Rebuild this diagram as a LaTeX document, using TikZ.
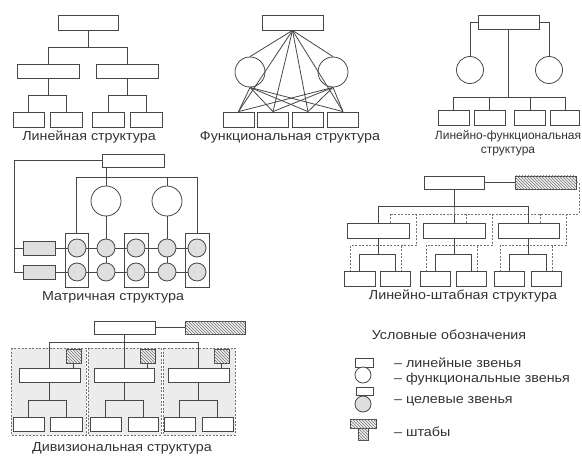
\documentclass[tikz,border=0pt]{standalone}
\usepackage{fontspec}
\setmainfont{Liberation Sans}[FakeStretch=1.1]
\newfontfamily\plainsans{Liberation Sans}
\usetikzlibrary{patterns,calc}
\colorlet{lc}{black!72}
\tikzset{
  ln/.style={draw=lc, line width=0.8pt},
  dsh/.style={draw=black!55, line width=0.8pt, dash pattern=on 2pt off 1.5pt},
  rbox/.style 2 args={rectangle, draw=lc, line width=0.8pt, fill=white, inner sep=0pt, minimum width=#1, minimum height=#2},
  frame/.style 2 args={rectangle, draw=lc, line width=0.8pt, inner sep=0pt, minimum width=#1, minimum height=#2},
  gbox/.style 2 args={rbox={#1}{#2}, fill=gray!25},
  hbox/.style 2 args={rbox={#1}{#2}, fill=gray!12, postaction={pattern=north west lines, pattern color=black!55}},
  circ/.style={circle, draw=lc, line width=0.8pt, fill=white, inner sep=0pt, minimum size=#1},
  gcirc/.style={circ=#1, fill=gray!25},
  lbl/.style={font=\fontsize{13}{13}\selectfont, text=black!80, inner sep=0pt},
}
\begin{document}
\begin{tikzpicture}[x=1pt, y=-1pt]
\useasboundingbox (0,0) rectangle (582,460);

% ---------------- Linear structure
\node[rbox={60}{15}] (L0) at (88,22.5) {};
\node[rbox={62}{14}] (L1a) at (48.5,71) {};
\node[rbox={62}{14}] (L1b) at (127.5,71) {};
\node[rbox={31}{15}] (L2a) at (28.5,120) {};
\node[rbox={32}{15}] (L2b) at (66,120) {};
\node[rbox={32}{15}] (L2c) at (108,120) {};
\node[rbox={32}{15}] (L2d) at (146,120) {};
\draw[ln] (L0.south) -- ++(0,17) -| (L1a.north);
\draw[ln] (L0.south) -- ++(0,17) -| (L1b.north);
\draw[ln] (L1a.south) -- ++(0,17) -| (L2a.north);
\draw[ln] (L1a.south) -- ++(0,17) -| (L2b.north);
\draw[ln] (L1b.south) -- ++(0,17) -| (L2c.north);
\draw[ln] (L1b.south) -- ++(0,17) -| (L2d.north);
\node[lbl] (tL) at (89,137) {Линейная структура};

% ---------------- Functional structure
\node[rbox={61}{15}] (F0) at (292.5,22.5) {};
\node[circ=30] (FC1) at (250,72) {};
\node[circ=30] (FC2) at (333,72) {};
\node[rbox={31}{15}] (FB1) at (238.5,119.5) {};
\node[rbox={31}{15}] (FB2) at (273,119.5) {};
\node[rbox={31}{15}] (FB3) at (308,119.5) {};
\node[rbox={31}{15}] (FB4) at (343,119.5) {};
\draw[ln] (F0.south) -- (FC1.north);
\draw[ln] (F0.south) -- (FC2.north);
\foreach \b in {FB1,FB2,FB3,FB4}{
  \draw[ln] (F0.south) -- (\b.north);
  \draw[ln] (FC1.south) -- (\b.north);
  \draw[ln] (FC2.south) -- (\b.north);
}
\node[lbl] (tF) at (290,137) {Функциональная структура};

% ---------------- Linear-functional structure
\node[rbox={61}{14}] (LF0) at (508.5,22.5) {};
\node[circ=27] (LFC1) at (470,70) {};
\node[circ=27] (LFC2) at (549,70) {};
\node[rbox={31}{15}] (LFB1) at (453.5,117.5) {};
\node[rbox={31}{15}] (LFB2) at (489.5,117.5) {};
\node[rbox={31}{15}] (LFB3) at (530,117.5) {};
\node[rbox={29}{15}] (LFB4) at (565,117.5) {};
\draw[ln] (LF0.west) -| (LFC1.north);
\draw[ln] (LF0.east) -| (LFC2.north);
\foreach \b in {LFB1,LFB2,LFB3,LFB4}{
  \draw[ln] (LF0.south) -- ++(0,67.5) -| (\b.north);
}
\node[lbl, font=\plainsans\fontsize{12}{13.5}\selectfont, align=center] (tLF) at (508,143.5) {Линейно-функциональная\\структура};

% ---------------- Matrix structure
\node[rbox={62}{13}] (M0) at (133,160.5) {};
\node[circ=30] (MC1) at (106,201) {};
\node[circ=30] (MC2) at (167,201) {};
\node[frame={23}{54}] (MF1) at (76.5,260) {};
\node[frame={24}{54}] (MF3) at (136,260) {};
\node[frame={24}{54}] (MF5) at (197,260) {};
\node[gbox={32}{14}] (GB1) at (39,248) {};
\node[gbox={32}{14}] (GB2) at (39,272) {};
\foreach \c/\x in {1/77,2/106,3/136,4/167,5/197}{
  \node[gcirc=18] (S\c1) at (\x,248) {};
  \node[gcirc=18] (S\c2) at (\x,272) {};
}
\draw[ln] (M0.south -| MC1.north) -- (MC1.north);
\draw[ln] (MF1.north) -- ++(0,-55) -| (MF5.north);
\draw[ln] (MC2.north) -- ++(0,-8);
\coordinate (ML) at (14,160.5);
\draw[ln] (M0.west) -- (ML) |- (GB2.west);
\draw[ln] (ML |- GB1.west) -- (GB1.west);
\foreach \r in {1,2}{
  \draw[ln] (GB\r.east) -- (S1\r);
  \draw[ln] (S1\r) -- (S2\r);
  \draw[ln] (S2\r) -- (S3\r);
  \draw[ln] (S3\r) -- (S4\r);
  \draw[ln] (S4\r) -- (S5\r);
}
\draw[ln] (S21) -- (S22);
\draw[ln] (S41) -- (S42);
\draw[ln] (MC1) -- (S21);
\draw[ln] (MC2) -- (S41);
\node[lbl] (tM) at (113,297) {Матричная структура};

% ---------------- Linear-staff structure
\node[rbox={60}{13}] (LS0) at (454,182.5) {};
\node[hbox={61}{13}] (LSH) at (545.5,182.5) {};
\draw[ln] (LS0) -- (LSH);
\node[rbox={62}{15}] (P1) at (378,230.5) {};
\node[rbox={62}{15}] (P2) at (454,230.5) {};
\node[rbox={61}{15}] (P3) at (528.5,230.5) {};
\node[rbox={31}{15}] (C11) at (359.5,278.5) {};
\node[rbox={30}{15}] (C12) at (395,278.5) {};
\node[rbox={30}{15}] (C21) at (435,278.5) {};
\node[rbox={30}{15}] (C22) at (471.5,278.5) {};
\node[rbox={30}{15}] (C31) at (509,278.5) {};
\node[rbox={30}{15}] (C32) at (546,278.5) {};
\coordinate (T1) at (579,214);
\coordinate (T0) at (390,214);
\draw[dsh] (LSH.east) -| (T1) -- (T0);
\foreach \g in {1,2,3}{
  \draw[ln] (LS0.south) -- ++(0,17) -| (P\g.north);
  \draw[ln] (P\g.south) -- ++(0,16) -| (C\g1.north);
  \draw[ln] (P\g.south) -- ++(0,16) -| (C\g2.north);
  \draw[dsh] ($(P\g.north)+(12,-9)$) -- ($(P\g.north)+(12,0)$);
  \draw[dsh] ($(P\g.north east)+(7,-9)$) |- ($(C\g1.north)+(-9,-25)$) -- ($(C\g1.north)+(-9,0)$);
  \draw[dsh] ($(C\g2.north)+(6,-25)$) -- ($(C\g2.north)+(6,0)$);
}
\node[lbl] (tLS) at (463,296) {Линейно-штабная структура};

% ---------------- Divisional structure
\foreach \a/\b in {11/86,88/161,163/235}{
  \fill[gray!15] (\a,348) rectangle (\b,435);
  \draw[dsh] (\a,348) rectangle (\b,435);
}
\node[rbox={61}{13}] (D0) at (124.5,327.5) {};
\node[hbox={60}{13}] (DH) at (215,327.5) {};
\draw[ln] (D0) -- (DH);
\node[rbox={61}{14}] (D1) at (49.5,375) {};
\node[rbox={60}{14}] (D2) at (124,375) {};
\node[rbox={61}{14}] (D3) at (198.5,375) {};
\node[hbox={15}{14}] (DS1) at (73.5,356) {};
\node[hbox={15}{14}] (DS2) at (147.5,356) {};
\node[hbox={15}{14}] (DS3) at (221.5,356) {};
\node[rbox={31}{14}] (E11) at (28.5,424) {};
\node[rbox={32}{14}] (E12) at (66,424) {};
\node[rbox={31}{14}] (E21) at (105.5,424) {};
\node[rbox={30}{14}] (E22) at (143,424) {};
\node[rbox={31}{14}] (E31) at (179.5,424) {};
\node[rbox={31}{14}] (E32) at (217.5,424) {};
\foreach \g in {1,2,3}{
  \draw[ln] (D0.south) -- ++(0,8) -| (D\g.north);
  \draw[ln] (DS\g.south) -- (DS\g.south |- D\g.north);
  \draw[ln] (D\g.south) -- ++(0,18) -| (E\g1.north);
  \draw[ln] (D\g.south) -- ++(0,18) -| (E\g2.north);
}
\node[lbl] (tD) at (122,448) {Дивизиональная структура};

% ---------------- Legend
\node[lbl] (tLeg) at (449,335) {Условные обозначения};
\node[rbox={18}{9}] (G1) at (364,362.5) {};
\node[circ=16] (G2) at (363,375) {};
\node[rbox={17}{8}] (G3) at (364.5,391) {};
\node[gcirc=16] (G4) at (363,404) {};
\node[hbox={10}{12}] (G6) at (363,434) {};
\node[hbox={26}{9}] (G5) at (363,423.5) {};
\node[lbl, anchor=west] (g1) at (394,363) {– линейные звенья};
\node[lbl, anchor=west] (g2) at (394,379) {– функциональные звенья};
\node[lbl, anchor=west] (g3) at (394,401) {– целевые звенья};
\node[lbl, anchor=west] (g4) at (394,432) {– штабы};
\end{tikzpicture}
\end{document}
